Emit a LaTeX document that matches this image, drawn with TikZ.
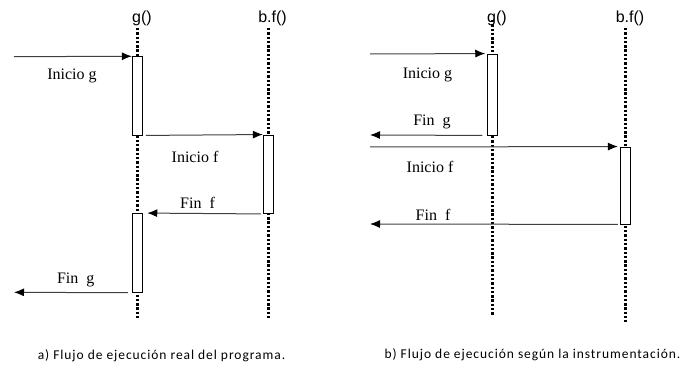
\documentclass[tikz,border=0pt]{standalone}
\usepackage{fontspec}
\setmainfont{Liberation Serif}
\newfontfamily\headfont{Liberation Sans}
\newfontfamily\capfont[LetterSpace=7]{Carlito}
\usetikzlibrary{arrows.meta}

\begin{document}
\begin{tikzpicture}
    [x=1pt,y=-1pt,
    lifeline/.style={line width=2.7pt,dash pattern=on 2.4pt off 1.9pt},
    activity/.style={rectangle,draw,fill=white,line width=0.9pt,inner sep=0pt,minimum width=10pt},
    call/.style={line width=1pt,draw=black!75,-{Latex[length=10pt,width=8pt,black]}},
    objname/.style={inner sep=0pt,font=\headfont\fontsize{16}{19}\selectfont},
    msgname/.style={inner sep=0pt,font=\rmfamily\fontsize{16}{19}\selectfont},
    caption/.style={inner sep=0pt,font=\capfont\fontsize{13.5}{16}\selectfont}]
    \useasboundingbox (0,0) rectangle (688,366);

    % a) ejecucion real
    \node[objname] (gA) at (142,18)  {g()};
    \node[objname] (fA) at (272.5,18) {b.f()};
    \coordinate (gAtop) at (137.3,28);
    \coordinate (gAbot) at (137.3,320);
    \coordinate (fAtop) at (268.3,28);
    \coordinate (fAbot) at (268.3,320);
    \draw[lifeline] (gAtop) -- (gAbot);
    \draw[lifeline] (fAtop) -- (fAbot);
    \node[activity,minimum height=78.3pt] (gAon1) at (137.3,95.85) {};
    \node[activity,minimum height=78.5pt] (fAon)  at (268.3,174.25) {};
    \node[activity,minimum height=78.8pt] (gAon2) at (137.3,252.9) {};
    \coordinate (inA)  at (14,56.7);
    \coordinate (outA) at (14,292.3);
    \draw[call] (inA) -- (gAon1.north west);
    \draw[call,shorten <=3pt] (gAon1.south east) -- (fAon.north west);
    \draw[call,shorten <=2pt,shorten >=4.5pt] (fAon.south west) -- (gAon2.north east);
    \draw[call,shorten <=4pt] (gAon2.south west) -- (outA);
    \node[msgname] (tInicioGA) at (72,76)    {Inicio g};
    \node[msgname] (tInicioFA) at (195,157)  {Inicio f};
    \node[msgname] (tFinFA)    at (197.5,203) {Fin\ \ f};
    \node[msgname] (tFinGA)    at (75.7,280) {Fin\ \ g};
    \node[caption] (capA) at (161.5,356) {a) Flujo de ejecución real del programa.};

    % b) segun la instrumentacion
    \node[objname] (gB) at (497,18)  {g()};
    \node[objname] (fB) at (630,18)  {b.f()};
    \coordinate (gBtop) at (492.7,20);
    \coordinate (gBbot) at (492.7,315);
    \coordinate (fBtop) at (625.3,28);
    \coordinate (fBbot) at (625.3,322);
    \draw[lifeline] (gBtop) -- (gBbot);
    \draw[lifeline] (fBtop) -- (fBbot);
    \node[activity,minimum height=81pt] (gBon) at (492.7,94.5) {};
    \node[activity,minimum height=77pt] (fBon) at (625.3,185.5) {};
    \coordinate (inB1)  at (370,54);
    \coordinate (outB1) at (370,135);
    \coordinate (inB2)  at (370,147);
    \coordinate (outB2) at (370,224);
    \draw[call,shorten >=2pt] (inB1) -- (gBon.north west);
    \draw[call,shorten <=5pt] (gBon.south west) -- (outB1);
    \draw[call,shorten >=2pt] (inB2) -- (fBon.north west);
    \draw[call,shorten <=2pt] (fBon.south west) -- (outB2);
    \node[msgname] (tInicioGB) at (427.5,75) {Inicio g};
    \node[msgname] (tFinGB)    at (432,122)  {Fin\ \ g};
    \node[msgname] (tInicioFB) at (430,167)  {Inicio f};
    \node[msgname] (tFinFB)    at (433,215)  {Fin\ \ f};
    \node[caption] (capB) at (532.5,355) {b) Flujo de ejecución según la instrumentación.};
\end{tikzpicture}
\end{document}
